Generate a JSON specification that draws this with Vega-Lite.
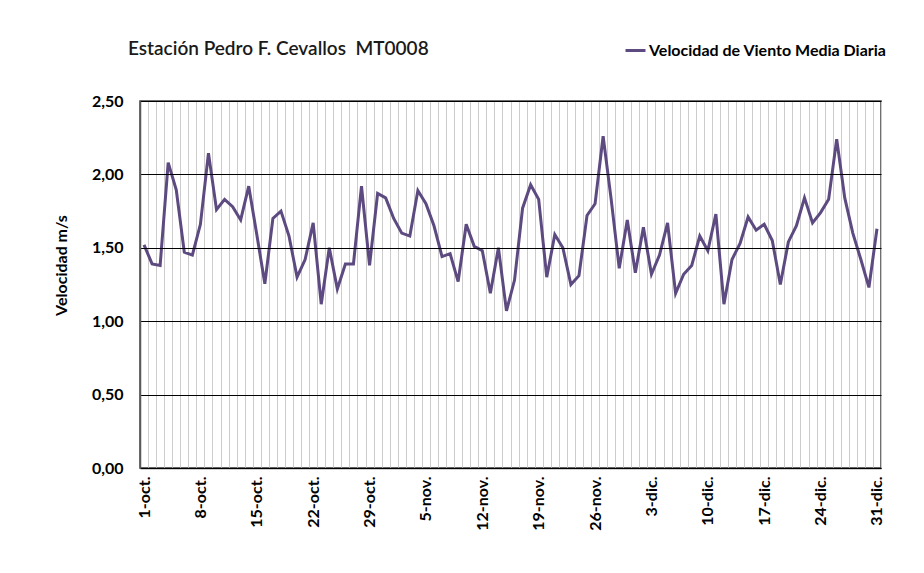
{
  "$schema": "https://vega.github.io/schema/vega-lite/v6.json",
  "width": 741,
  "height": 367,
  "autosize": "none",
  "padding": {"left": 140, "top": 101, "right": 43, "bottom": 105},
  "background": "white",
  "title": {
    "text": "Estación Pedro F. Cevallos\u00a0 MT0008",
    "anchor": "start",
    "frame": "group",
    "dx": -12,
    "offset": 42,
    "dy": 62,
    "font": "Lato",
    "fontSize": 19,
    "fontWeight": 600,
    "color": "#1a1a1a"
  },
  "config": {
    "view": {"stroke": "#404040", "strokeWidth": 1.5},
    "font": "Lato"
  },
  "data": {
    "values": [
      {"dia": 1, "v": 1.52}, {"dia": 2, "v": 1.39}, {"dia": 3, "v": 1.38}, {"dia": 4, "v": 2.08},
      {"dia": 5, "v": 1.895}, {"dia": 6, "v": 1.47}, {"dia": 7, "v": 1.45}, {"dia": 8, "v": 1.66},
      {"dia": 9, "v": 2.145}, {"dia": 10, "v": 1.76}, {"dia": 11, "v": 1.83}, {"dia": 12, "v": 1.78},
      {"dia": 13, "v": 1.69}, {"dia": 14, "v": 1.92}, {"dia": 15, "v": 1.59}, {"dia": 16, "v": 1.255},
      {"dia": 17, "v": 1.70}, {"dia": 18, "v": 1.75}, {"dia": 19, "v": 1.58}, {"dia": 20, "v": 1.30},
      {"dia": 21, "v": 1.42}, {"dia": 22, "v": 1.67}, {"dia": 23, "v": 1.116}, {"dia": 24, "v": 1.50},
      {"dia": 25, "v": 1.22}, {"dia": 26, "v": 1.39}, {"dia": 27, "v": 1.39}, {"dia": 28, "v": 1.92},
      {"dia": 29, "v": 1.38}, {"dia": 30, "v": 1.87}, {"dia": 31, "v": 1.84}, {"dia": 32, "v": 1.70},
      {"dia": 33, "v": 1.60}, {"dia": 34, "v": 1.58}, {"dia": 35, "v": 1.89}, {"dia": 36, "v": 1.80},
      {"dia": 37, "v": 1.65}, {"dia": 38, "v": 1.44}, {"dia": 39, "v": 1.46}, {"dia": 40, "v": 1.27},
      {"dia": 41, "v": 1.66}, {"dia": 42, "v": 1.51}, {"dia": 43, "v": 1.48}, {"dia": 44, "v": 1.19},
      {"dia": 45, "v": 1.50}, {"dia": 46, "v": 1.07}, {"dia": 47, "v": 1.28}, {"dia": 48, "v": 1.77},
      {"dia": 49, "v": 1.93}, {"dia": 50, "v": 1.83}, {"dia": 51, "v": 1.30}, {"dia": 52, "v": 1.59},
      {"dia": 53, "v": 1.50}, {"dia": 54, "v": 1.25}, {"dia": 55, "v": 1.31}, {"dia": 56, "v": 1.72},
      {"dia": 57, "v": 1.80}, {"dia": 58, "v": 2.26}, {"dia": 59, "v": 1.83}, {"dia": 60, "v": 1.36},
      {"dia": 61, "v": 1.69}, {"dia": 62, "v": 1.33}, {"dia": 63, "v": 1.64}, {"dia": 64, "v": 1.32},
      {"dia": 65, "v": 1.45}, {"dia": 66, "v": 1.67}, {"dia": 67, "v": 1.19}, {"dia": 68, "v": 1.32},
      {"dia": 69, "v": 1.38}, {"dia": 70, "v": 1.58}, {"dia": 71, "v": 1.48}, {"dia": 72, "v": 1.73},
      {"dia": 73, "v": 1.116}, {"dia": 74, "v": 1.42}, {"dia": 75, "v": 1.53}, {"dia": 76, "v": 1.71},
      {"dia": 77, "v": 1.62}, {"dia": 78, "v": 1.66}, {"dia": 79, "v": 1.55}, {"dia": 80, "v": 1.25},
      {"dia": 81, "v": 1.54}, {"dia": 82, "v": 1.65}, {"dia": 83, "v": 1.84}, {"dia": 84, "v": 1.67},
      {"dia": 85, "v": 1.74}, {"dia": 86, "v": 1.83}, {"dia": 87, "v": 2.24}, {"dia": 88, "v": 1.84},
      {"dia": 89, "v": 1.60}, {"dia": 90, "v": 1.42}, {"dia": 91, "v": 1.23}, {"dia": 92, "v": 1.63}
    ]
  },
  "layer": [
    {
      "mark": {"type": "point", "opacity": 0},
      "encoding": {
        "x": {
          "field": "dia",
          "type": "quantitative",
          "scale": {"domain": [0.5, 92.5], "nice": false, "zero": false},
          "axis": {
            "orient": "bottom",
            "title": null,
            "grid": true,
            "gridColor": "#cccccc",
            "gridWidth": 1,
            "labels": false,
            "ticks": false,
            "domain": false,
            "values": [0.5,1.5,2.5,3.5,4.5,5.5,6.5,7.5,8.5,9.5,10.5,11.5,12.5,13.5,14.5,15.5,16.5,17.5,18.5,19.5,20.5,21.5,22.5,23.5,24.5,25.5,26.5,27.5,28.5,29.5,30.5,31.5,32.5,33.5,34.5,35.5,36.5,37.5,38.5,39.5,40.5,41.5,42.5,43.5,44.5,45.5,46.5,47.5,48.5,49.5,50.5,51.5,52.5,53.5,54.5,55.5,56.5,57.5,58.5,59.5,60.5,61.5,62.5,63.5,64.5,65.5,66.5,67.5,68.5,69.5,70.5,71.5,72.5,73.5,74.5,75.5,76.5,77.5,78.5,79.5,80.5,81.5,82.5,83.5,84.5,85.5,86.5,87.5,88.5,89.5,90.5,91.5,92.5]
          }
        },
        "y": {
          "field": "v",
          "type": "quantitative",
          "scale": {"domain": [0, 2.5], "nice": false},
          "axis": {
            "title": "Velocidad m/s",
            "titleFont": "Lato",
            "titleFontSize": 16,
            "titleFontWeight": "bold",
            "titleColor": "#000000",
            "titlePadding": 22,
            "titleY": 164,
            "values": [0, 0.5, 1, 1.5, 2, 2.5],
            "labelExpr": "replace(format(datum.value, '.2f'), '.', ',')",
            "labelFont": "Lato",
            "labelFontSize": 16,
            "labelFontWeight": "bold",
            "labelColor": "#000000",
            "labelPadding": 17,
            "ticks": false,
            "domain": true,
            "domainColor": "#595959",
            "domainWidth": 1.5,
            "grid": true,
            "gridColor": "#000000",
            "gridWidth": 1,
            "zindex": 1
          }
        }
      }
    },
    {
      "mark": {"type": "line", "strokeWidth": 3},
      "encoding": {
        "x": {
          "field": "dia",
          "type": "quantitative",
          "axis": {
            "orient": "bottom",
            "title": null,
            "grid": false,
            "values": [1, 8, 15, 22, 29, 36, 43, 50, 57, 64, 71, 78, 85, 92],
            "labelExpr": "datum.value <= 31 ? datum.value + '-oct.' : datum.value <= 61 ? (datum.value - 31) + '-nov.' : (datum.value - 61) + '-dic.'",
            "labelAngle": -90,
            "labelFont": "Lato",
            "labelFontSize": 16,
            "labelFontWeight": "bold",
            "labelColor": "#000000",
            "labelPadding": 8,
            "ticks": false,
            "domain": true,
            "domainColor": "#404040",
            "domainWidth": 1.5
          }
        },
        "y": {"field": "v", "type": "quantitative"},
        "color": {
          "datum": "Velocidad de Viento Media Diaria",
          "type": "nominal",
          "scale": {"range": ["#5c4a80"]},
          "legend": {
            "title": null,
            "orient": "none",
            "legendX": 484,
            "legendY": -62,
            "symbolType": "stroke",
            "symbolSize": 400,
            "symbolStrokeWidth": 3,
            "labelFont": "Lato",
            "labelFontSize": 16,
            "labelFontWeight": "bold",
            "labelColor": "#000000",
            "labelOffset": 2,
            "labelLimit": 400
          }
        }
      }
    }
  ],
  "resolve": {"axis": {"x": "independent"}}
}
